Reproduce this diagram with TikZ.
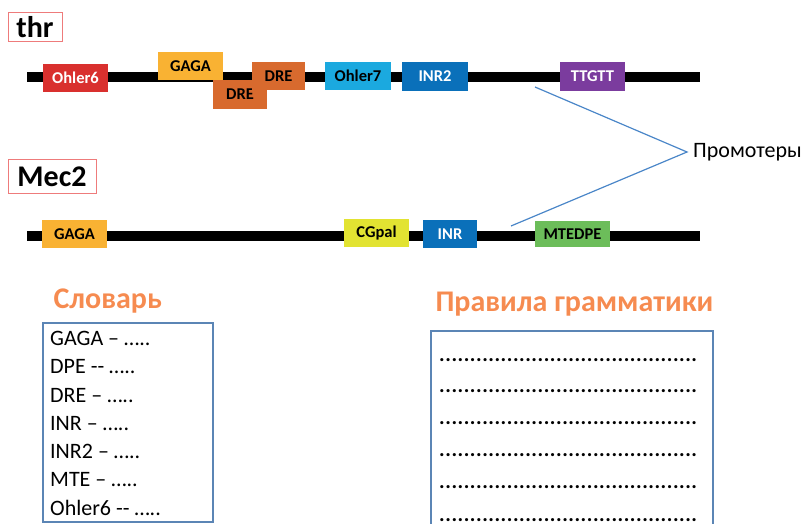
\documentclass[tikz,border=0pt]{standalone}
\usepackage{fontspec}
\setmainfont{Carlito}
\definecolor{ohlersix}{HTML}{D9302E}
\definecolor{gagacol}{HTML}{F9B233}
\definecolor{drecol}{HTML}{D86A2E}
\definecolor{ohlerseven}{HTML}{1BA9DF}
\definecolor{inrcol}{HTML}{0A70BA}
\definecolor{ttgttcol}{HTML}{7B3C9E}
\definecolor{cgpalcol}{HTML}{E2E332}
\definecolor{mtecol}{HTML}{6CBD5A}
\definecolor{promline}{HTML}{4A86C8}
\definecolor{frame}{HTML}{5B85B5}
\definecolor{titlecol}{HTML}{F68B50}
\definecolor{genebox}{HTML}{EE7B7B}
\newcommand\dotrow{\makebox[258pt][s]{\foreach \k in {1,...,41}{.\hfill}.}}
\tikzset{
  motif/.style={minimum height=28pt, inner sep=0pt, font=\fontsize{16.5}{19}\bfseries\selectfont},
  gene/.style={draw=genebox, line width=1pt, inner sep=0pt, font=\fontsize{30}{34}\bfseries\selectfont},
  chrom/.style={line width=10pt, black},
  heading/.style={text=titlecol, font=\fontsize{30}{34}\bfseries\selectfont},
  listbox/.style={draw=frame, line width=1.3pt}
}
\begin{document}
\begin{tikzpicture}[x=1pt, y=-1pt]
  \useasboundingbox (0,0) rectangle (807,524);
  % genes
  \node[gene, minimum width=54pt, minimum height=29pt] (thr) at (35,27.5) {thr};
  \node[gene, minimum width=88pt, minimum height=34pt] (mec) at (52,177) {Mec2};
  \coordinate (thrA) at (27,77);
  \coordinate (thrB) at (700,77);
  \coordinate (mecA) at (27,236);
  \coordinate (mecB) at (700,236);
  \draw[chrom] (thrA) -- (thrB);
  \draw[chrom] (mecA) -- (mecB);
  % thr motifs
  \node[motif, fill=ohlersix, text=white, minimum width=65pt] (ohl6) at (75.5,78) {Ohler6};
  \node[motif, fill=gagacol, minimum width=65pt] (gaga1) at (190.5,66) {GAGA};
  \node[motif, fill=drecol, minimum width=54pt, minimum height=29pt] (dre1) at (240,94.5) {DRE};
  \node[motif, fill=drecol, minimum width=53pt] (dre2) at (278.5,76) {DRE};
  \node[motif, fill=ohlerseven, minimum width=66pt] (ohl7) at (358,76) {Ohler7};
  \node[motif, fill=inrcol, text=white, minimum width=66pt, minimum height=29pt] (inr2) at (435,76.5) {INR2};
  \node[motif, fill=ttgttcol, text=white, minimum width=65pt, minimum height=29pt] (ttgtt) at (592.5,76.5) {TTGTT};
  % Mec2 motifs
  \node[motif, fill=gagacol, minimum width=65pt] (gaga2) at (74.5,234) {GAGA};
  \node[motif, fill=cgpalcol, minimum width=65pt] (cgpal) at (376.5,233) {CGpal};
  \node[motif, fill=inrcol, text=white, minimum width=54pt] (inr) at (450,234) {INR};
  \node[motif, fill=mtecol, minimum width=75pt, minimum height=26pt] (mtedpe) at (572.5,234) {MTEDPE};
  % promoters
  \node[anchor=west, inner xsep=6pt, font=\fontsize{22}{25}\selectfont] (prom) at (687,152) {Промотеры};
  \coordinate (promA) at (535,87);
  \coordinate (promB) at (511,226);
  \draw[promline, line width=1.2pt] (promA) -- (prom.west) -- (promB);
  % dictionary
  \node[heading, anchor=west] (dicthead) at (50,301) {Словарь};
  \draw[listbox] (43,323) rectangle (213,522);
  \node[anchor=north west, inner sep=0pt, align=left,
        font=\fontsize{22}{28.3}\selectfont] (dict) at (50,331)
    {GAGA – …..\\DPE -{}- …..\\DRE – …..\\INR – …..\\INR2 – …..\\MTE – …..\\Ohler6 -{}- …..};
  % grammar
  \node[heading, anchor=west] (gramhead) at (432,304) {Правила грамматики};
  \draw[listbox] (431,331) rectangle (713,535);
  \foreach \r [count=\i] in {357,388.5,420,452,484,517} {
    \node[anchor=west, inner sep=0pt, font=\fontsize{21}{24}\bfseries\selectfont] (rule\i) at (439,\r+3) {\dotrow};
  }
\end{tikzpicture}
\end{document}
